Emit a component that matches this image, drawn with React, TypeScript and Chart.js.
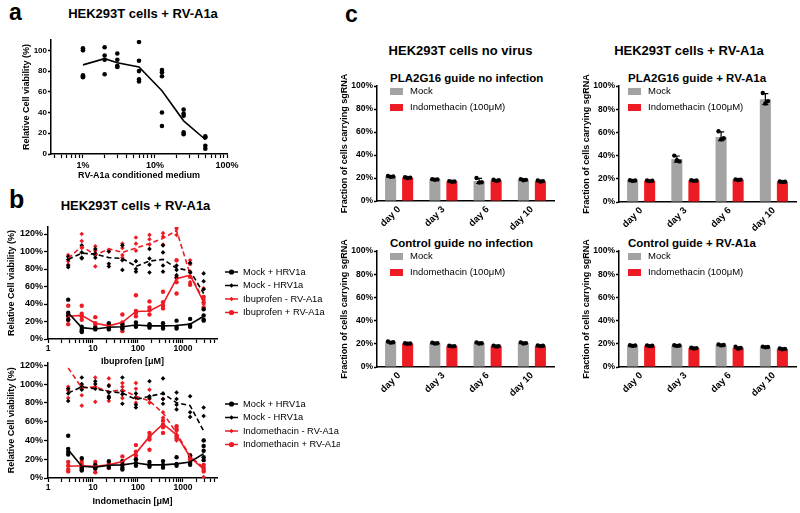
import React, { useEffect, useRef } from "react";
import { Chart, registerables } from "chart.js";

Chart.register(...registerables);

const FONT = '"Liberation Sans", Arial, Helvetica, sans-serif';
Chart.defaults.font.family = FONT;
Chart.defaults.color = "#000";

const RED = "rgb(237, 28, 36)";
const GRAY = "rgb(163, 163, 163)";
const BLACK = "#000";

// ---------------- Panel a ----------------
const aConcentrations = [1, 2, 3, 6, 12.5, 25, 50];
const aViabilityReplicates = [
  [102, 100, 76, 75, 74],
  [103, 95, 91, 77],
  [97, 91, 85, 84],
  [108, 90, 80, 72, 70],
  [81, 79, 75, 40, 27],
  [43, 39, 37, 21, 19],
  [17, 16, 8, 5],
];
const aViabilityMean = [86, 92, 88, 84, 61, 32, 14];
const aYTicks = [0, 20, 40, 60, 80, 100];

// ---------------- Panel b ----------------
const bConcentrations = [2.8125, 5.625, 11.25, 22.5, 45, 90, 180, 360, 720, 1440, 2880];
const bYTicks = [0, 20, 40, 60, 80, 100, 120];

// Ibuprofen
const ibuMockPlusMean = [30, 13, 11.5, 13.5, 14, 16, 15, 15, 15.5, 17, 26];
const ibuMockPlusReps = [
  [45, 30, 27, 22], [14, 11, 9, 8], [13, 12, 11], [18, 13, 11], [17, 13, 12], [19, 15, 14],
  [17, 15, 13], [18, 14, 12], [21, 14, 12], [23, 16, 14], [34, 27, 22, 21],
];
const ibuMockMinusMean = [91, 98, 97, 93, 92, 83, 89, 91, 81, 78, 52];
const ibuMockMinusReps = [
  [94, 91, 84, 82], [107, 99, 93, 92], [103, 98, 96, 93], [100, 86, 83], [107, 90, 79], [89, 80, 77],
  [103, 92, 85, 76], [107, 99, 84, 77], [84, 79, 73, 70], [87, 76], [75, 66, 57],
];
const ibuDrugMinusMean = [92, 106, 96, 103, 99, 104, 109, 115, 124, 74, 44];
const ibuDrugMinusReps = [
  [96, 89, 85], [120, 112, 104], [106, 101, 83], [102, 100], [109, 104, 96, 93], [116, 109, 101],
  [119, 114, 108], [121, 117, 108], [128, 126, 119], [90, 77, 65], [58, 45, 40],
];
const ibuDrugPlusMean = [26, 27, 18, 15, 19, 31.5, 32, 40, 69, 73, 42];
const ibuDrugPlusReps = [
  [38, 26, 22, 17], [38, 29, 26, 22], [25, 18, 16, 13], [17, 15, 12], [28, 19, 15, 9], [50, 32, 30, 26],
  [43, 36, 33, 28], [54, 42, 38, 35], [90, 70, 65, 52], [86, 71, 62], [48, 42, 36],
];

// Indomethacin
const indoMockPlusMean = [30, 12.5, 11.5, 13.5, 14, 16, 14, 14, 15, 17, 26];
const indoMockPlusReps = [
  [45, 31, 28, 25], [21, 11, 9, 8], [14, 12, 10], [18, 13, 11], [18, 14, 11, 9], [20, 16, 13],
  [17, 14, 12], [18, 14, 11], [22, 15, 13], [24, 16, 14], [40, 34, 29, 22, 19],
];
const indoMockMinusMean = [90.5, 97, 95, 92, 90.5, 83.5, 87, 90, 80, 77, 50];
const indoMockMinusReps = [
  [95, 90, 82], [107, 100, 97, 94], [103, 100, 95], [98, 91, 87, 85], [107, 93, 89, 79], [90, 86, 78, 75],
  [103, 87, 85], [106, 90, 84, 79], [91, 84, 78, 73], [87, 70, 65], [75, 66, 40],
];
const indoDrugMinusMean = [117, 96, 97, 92, 94, 87, 82, 69, 48, 23, 11];
const indoDrugMinusReps = [
  [97, 95, 93, 85], [99, 95, 88, 77], [107, 97, 81], [106, 99, 86, 82], [101, 97, 92, 85], [101, 95, 85, 80],
  [94, 84, 80], [84, 70, 64], [50, 44, 40], [24, 20], [12, 8, 1],
];
const indoDrugPlusMean = [12.5, 13, 12.5, 14, 17.5, 26.5, 44, 57.5, 46, 22, 9.5];
const indoDrugPlusReps = [
  [17, 13, 9, 7], [18, 15, 11], [17, 10, 6], [17, 15, 11], [23, 17, 14], [35, 28, 24, 20],
  [48, 44, 41, 30], [61, 57, 54, 48], [55, 52, 45, 42], [24, 22, 20], [14, 10, 7],
];

// ---------------- Panel c ----------------
const days = ["day 0", "day 3", "day 6", "day 10"];
const cYTicks = [0, 20, 40, 60, 80, 100];

const c1Mock = [21.3, 18.8, 17.4, 18.5];
const c1MockReps = [[21.8, 21.0, 21.3], [19.0, 18.5, 18.8], [20.0, 16.0, 16.3], [19.0, 18.0, 18.4]];
const c1Indo = [20.3, 17.0, 18.0, 17.3];
const c1IndoReps = [[20.6, 20.0, 20.3], [17.3, 16.7, 17.0], [18.5, 17.5, 18.0], [17.8, 16.9, 17.3]];

const c2Mock = [18.5, 37.0, 56.0, 88.5];
const c2MockReps = [[18.8, 18.2, 18.5], [40.0, 36.0, 35.0], [61.0, 54.0, 55.0], [94.0, 85.0, 87.0]];
const c2Indo = [18.3, 18.5, 19.3, 17.5];
const c2IndoReps = [[18.5, 18.0, 18.3], [18.8, 18.2, 18.5], [19.5, 19.0, 19.3], [17.7, 17.3, 17.5]];

const c3Mock = [21.3, 20.5, 20.6, 20.7];
const c3MockReps = [[22.0, 21.0, 21.4], [21.0, 20.2, 20.5], [21.2, 20.2, 20.5], [21.2, 20.3, 20.6]];
const c3Indo = [20.2, 18.0, 18.0, 18.3];
const c3IndoReps = [[20.5, 20.0, 20.2], [18.3, 17.8, 18.0], [18.4, 17.7, 18.0], [18.6, 18.0, 18.3]];

const c4Mock = [18.5, 18.5, 19.0, 17.3];
const c4MockReps = [[18.8, 18.2, 18.5], [18.8, 18.2, 18.5], [19.5, 18.6, 19.0], [17.6, 17.0, 17.3]];
const c4Indo = [18.3, 16.3, 16.5, 15.6];
const c4IndoReps = [[18.6, 18.0, 18.3], [16.6, 16.0, 16.3], [17.5, 15.8, 16.4], [15.9, 15.3, 15.6]];

// ---------------- helpers ----------------
const pts = (xs: number[], ys: number[]) => xs.map((x, i) => ({ x, y: ys[i] }));
const repPts = (xs: number[], reps: number[][]) => xs.flatMap((x, i) => reps[i].map((y) => ({ x, y })));
const isPow10 = (v: number) => Math.abs(Math.log10(v) - Math.round(Math.log10(v))) < 1e-6;

function logTicks(min: number, max: number) {
  const out: any[] = [];
  for (let e = Math.floor(Math.log10(min)); e <= Math.ceil(Math.log10(max)); e++) {
    for (let s = 1; s < 10; s++) {
      const v = +(s * Math.pow(10, e)).toPrecision(6);
      if (v >= min - 1e-9 && v <= max + 1e-9) out.push({ value: v });
    }
  }
  return out;
}

type Box = { x: number; y: number; w: number; h: number };
type Area = { l: number; r: number; t: number; b: number };

function layoutPadding(box: Box, area: Area) {
  return { left: 0, top: area.t - box.y, right: box.x + box.w - area.r, bottom: 0 };
}

function zeroPad(s: any) {
  s.paddingLeft = 0;
  s.paddingRight = 0;
  s.paddingTop = 0;
  s.paddingBottom = 0;
}

function yScale(o: any) {
  const lh = o.titleSize * 1.2;
  const yW = o.area.l - o.box.x;
  return {
    type: "linear",
    min: o.min,
    max: o.max,
    afterBuildTicks: (s: any) => {
      s.ticks = o.ticks.map((v: number) => ({ value: v }));
    },
    afterFit: (s: any) => {
      s.width = yW;
      zeroPad(s);
    },
    ticks: {
      callback: o.fmt,
      autoSkip: false,
      padding: o.tickPad,
      color: BLACK,
      font: { size: o.tickSize, weight: "bold" },
    },
    grid: { display: true, drawOnChartArea: false, drawTicks: true, tickLength: o.tickLen, color: BLACK, tickWidth: 1.3 },
    border: { display: true, color: BLACK, width: 1.5 },
    title: {
      display: true,
      text: o.title,
      color: BLACK,
      font: { size: o.titleSize, weight: "bold", lineHeight: 1.2 },
      padding: { top: o.titleCx - o.box.x - lh / 2, bottom: 0 },
    },
  };
}

function xLogScale(o: any) {
  const lh = o.titleSize * 1.2;
  const xH = o.box.y + o.box.h - o.area.b;
  return {
    type: "logarithmic",
    min: o.min,
    max: o.max,
    afterBuildTicks: (s: any) => {
      s.ticks = logTicks(o.min, o.max);
    },
    afterFit: (s: any) => {
      s.height = xH;
      zeroPad(s);
    },
    ticks: {
      callback: (v: number) => (isPow10(v) ? o.fmt(v) : ""),
      autoSkip: false,
      maxRotation: 0,
      minRotation: 0,
      padding: o.tickPad,
      color: BLACK,
      font: { size: o.tickSize, weight: "bold" },
    },
    grid: { display: true, drawOnChartArea: false, drawTicks: true, tickLength: o.tickLen, color: BLACK, tickWidth: 1.2 },
    border: { display: true, color: BLACK, width: 1.5 },
    title: {
      display: true,
      text: o.title,
      color: BLACK,
      font: { size: o.titleSize, weight: "bold", lineHeight: 1.2 },
      padding: { top: 0, bottom: o.box.y + o.box.h - o.titleCy - lh / 2 },
    },
  };
}

function legendPlugin(box: Box, entries: any[]) {
  return {
    id: "pageLegend",
    afterDraw(chart: any) {
      const ctx = chart.ctx;
      ctx.save();
      entries.forEach((e) => {
        const ds = chart.data.datasets[e.ds];
        const x = e.x - box.x;
        const y = e.y - box.y;
        if (e.kind === "box") {
          ctx.fillStyle = ds.backgroundColor;
          ctx.fillRect(x, y - 3.5, 13, 7);
        } else {
          ctx.strokeStyle = ds.borderColor;
          ctx.lineWidth = 1.5;
          ctx.setLineDash([]);
          ctx.beginPath();
          ctx.moveTo(x, y);
          ctx.lineTo(x + 13, y);
          ctx.stroke();
          ctx.fillStyle = ds.borderColor;
          ctx.beginPath();
          if (e.marker === "circle") {
            ctx.arc(x + 6.5, y, 2.6, 0, Math.PI * 2);
          } else {
            ctx.moveTo(x + 6.5, y - 2.2);
            ctx.lineTo(x + 8.7, y);
            ctx.lineTo(x + 6.5, y + 2.2);
            ctx.lineTo(x + 4.3, y);
            ctx.closePath();
          }
          ctx.fill();
        }
        ctx.fillStyle = BLACK;
        ctx.font = `${e.size || 9.3}px ${FONT}`;
        ctx.textBaseline = "middle";
        ctx.textAlign = "left";
        ctx.fillText(ds.label, x + e.tx, y);
      });
      ctx.restore();
    },
  };
}

function replicatePlugin(repSets: number[][][]) {
  return {
    id: "replicates",
    afterDatasetsDraw(chart: any) {
      const ctx = chart.ctx;
      const ys = chart.scales.y;
      ctx.save();
      repSets.forEach((reps, di) => {
        const meta = chart.getDatasetMeta(di);
        meta.data.forEach((bar: any, j: number) => {
          const vals = reps[j];
          const n = vals.length;
          const mean = vals.reduce((a, b) => a + b, 0) / n;
          const sd = Math.sqrt(vals.reduce((a, b) => a + (b - mean) * (b - mean), 0) / (n - 1));
          const x = bar.x;
          const yT = ys.getPixelForValue(mean + sd);
          const yB = ys.getPixelForValue(mean - sd);
          ctx.strokeStyle = BLACK;
          ctx.lineWidth = 1.2;
          ctx.beginPath();
          ctx.moveTo(x, yT);
          ctx.lineTo(x, yB);
          ctx.moveTo(x - 3, yT);
          ctx.lineTo(x + 3, yT);
          ctx.moveTo(x - 3, yB);
          ctx.lineTo(x + 3, yB);
          ctx.stroke();
          ctx.fillStyle = BLACK;
          vals.forEach((v, k) => {
            const dx = (k - (n - 1) / 2) * 2.6;
            ctx.beginPath();
            ctx.arc(x + dx, ys.getPixelForValue(v), 2.2, 0, Math.PI * 2);
            ctx.fill();
          });
        });
      });
      ctx.restore();
    },
  };
}

function ChartBox({ box, make }: { box: Box; make: () => any }) {
  const ref = useRef<HTMLCanvasElement | null>(null);
  useEffect(() => {
    const chart = new Chart(ref.current as HTMLCanvasElement, make());
    return () => chart.destroy();
  }, []);
  return (
    <canvas
      ref={ref}
      width={box.w}
      height={box.h}
      style={{ position: "absolute", left: box.x, top: box.y, width: box.w, height: box.h }}
    />
  );
}

function Txt({ x, y, size, bold = true, anchor = "start", children }: any) {
  return (
    <div
      style={{
        position: "absolute",
        left: x,
        top: y - 0.8465 * size,
        fontSize: size,
        fontWeight: bold ? "bold" : "normal",
        fontFamily: FONT,
        lineHeight: 1,
        whiteSpace: "nowrap",
        color: "#000",
        transform: anchor === "middle" ? "translateX(-50%)" : undefined,
      }}
    >
      {children}
    </div>
  );
}

const baseOptions = {
  responsive: false,
  animation: false,
  events: [],
  plugins: { legend: { display: false }, tooltip: { enabled: false }, title: { display: false } },
};

// ---------------- Panel a chart ----------------
const aBox: Box = { x: 0, y: 25, w: 250, h: 165 };
const aArea: Area = { l: 51, r: 227, t: 40, b: 154 };

function makeA() {
  return {
    type: "scatter",
    data: {
      datasets: [
        {
          label: "replicates",
          data: repPts(aConcentrations, aViabilityReplicates),
          pointStyle: "circle",
          pointRadius: 2.3,
          backgroundColor: BLACK,
          borderColor: BLACK,
          borderWidth: 0,
        },
        {
          label: "mean",
          data: pts(aConcentrations, aViabilityMean),
          showLine: true,
          borderColor: BLACK,
          borderWidth: 1.6,
          pointRadius: 0,
        },
      ],
    },
    options: {
      ...baseOptions,
      layout: { padding: layoutPadding(aBox, aArea) },
      scales: {
        x: xLogScale({
          box: aBox, area: aArea, min: 0.36, max: 100, fmt: (v: number) => `${v}%`,
          title: "RV-A1a conditioned medium", titleSize: 9, titleCy: 176,
          tickSize: 9, tickLen: 4, tickPad: 2,
        }),
        y: yScale({
          box: aBox, area: aArea, min: 0, max: 110, ticks: aYTicks, fmt: (v: number) => `${v}`,
          title: "Relative Cell viability (%)", titleSize: 9, titleCx: 27,
          tickSize: 8, tickLen: 3, tickPad: 1,
        }),
      },
    },
  };
}

// ---------------- Panel b charts ----------------
function makeB(box: Box, area: Area, maxY: number, xTitle: string, titleCy: number, drugLabel: string, series: any, legendYs: number[]) {
  const datasets = [
    { label: "Mock + HRV1a", data: pts(bConcentrations, series.mockPlusMean), showLine: true, borderColor: BLACK, backgroundColor: BLACK, borderWidth: 1.6, pointRadius: 0 },
    { label: "Mock - HRV1a", data: pts(bConcentrations, series.mockMinusMean), showLine: true, borderColor: BLACK, backgroundColor: BLACK, borderWidth: 1.6, borderDash: [5, 3], pointRadius: 0 },
    { label: `${drugLabel} - RV-A1a`, data: pts(bConcentrations, series.drugMinusMean), showLine: true, borderColor: RED, backgroundColor: RED, borderWidth: 1.6, borderDash: [5, 3], pointRadius: 0 },
    { label: `${drugLabel} + RV-A1a`, data: pts(bConcentrations, series.drugPlusMean), showLine: true, borderColor: RED, backgroundColor: RED, borderWidth: 1.6, pointRadius: 0 },
    { label: "", data: repPts(bConcentrations, series.mockPlusReps), pointStyle: "circle", pointRadius: 2.2, backgroundColor: BLACK, borderWidth: 0 },
    { label: "", data: repPts(bConcentrations, series.mockMinusReps), pointStyle: "rectRot", pointRadius: 2.3, backgroundColor: BLACK, borderWidth: 0 },
    { label: "", data: repPts(bConcentrations, series.drugMinusReps), pointStyle: "rectRot", pointRadius: 2.3, backgroundColor: RED, borderWidth: 0 },
    { label: "", data: repPts(bConcentrations, series.drugPlusReps), pointStyle: "circle", pointRadius: 2.2, backgroundColor: RED, borderWidth: 0 },
  ];
  const markers = ["circle", "diamond", "diamond", "circle"];
  const entries = legendYs.map((y, i) => ({ ds: i, x: 225, y, tx: 18, kind: "line", marker: markers[i], size: 9.3 }));
  return {
    type: "scatter",
    data: { datasets },
    options: {
      ...baseOptions,
      layout: { padding: layoutPadding(box, area) },
      scales: {
        x: xLogScale({
          box, area, min: 1, max: 5700, fmt: (v: number) => `${v}`,
          title: xTitle, titleSize: 9, titleCy,
          tickSize: 8.5, tickLen: 4, tickPad: 1,
        }),
        y: yScale({
          box, area, min: 0, max: maxY, ticks: bYTicks, fmt: (v: number) => `${v}%`,
          title: "Relative Cell viability (%)", titleSize: 9, titleCx: 12,
          tickSize: 9, tickLen: 4, tickPad: 1,
        }),
      },
    },
    plugins: [legendPlugin(box, entries)],
  };
}

const bTopBox: Box = { x: 0, y: 215, w: 340, h: 160 };
const bTopArea: Area = { l: 48, r: 217, t: 227, b: 339 };
const bBotBox: Box = { x: 0, y: 350, w: 340, h: 163 };
const bBotArea: Area = { l: 48, r: 217, t: 362.4, b: 478 };

// ---------------- Panel c charts ----------------
function makeC(box: Box, area: Area, mock: number[], indo: number[], mockReps: number[][], indoReps: number[][], legendX: number, yTitleCx: number) {
  const xH = box.y + box.h - area.b;
  const entries = [
    { ds: 0, x: legendX, y: area.t + 5.5, tx: 20, kind: "box", size: 9.5 },
    { ds: 1, x: legendX, y: area.t + 21.5, tx: 20, kind: "box", size: 9.5 },
  ];
  return {
    type: "bar",
    data: {
      labels: days,
      datasets: [
        { label: "Mock", data: mock, backgroundColor: GRAY, borderWidth: 0, barPercentage: 0.65, categoryPercentage: 0.77 },
        { label: "Indomethacin (100\u03bcM)", data: indo, backgroundColor: RED, borderWidth: 0, barPercentage: 0.65, categoryPercentage: 0.77 },
      ],
    },
    options: {
      ...baseOptions,
      layout: { padding: layoutPadding(box, area) },
      scales: {
        x: {
          type: "category",
          afterFit: (s: any) => {
            s.height = xH;
            zeroPad(s);
          },
          ticks: { autoSkip: false, maxRotation: 45, minRotation: 45, padding: 3, color: BLACK, font: { size: 9.5, weight: "bold" } },
          grid: { display: true, drawOnChartArea: false, drawTicks: false },
          border: { display: true, color: BLACK, width: 1.5 },
        },
        y: yScale({
          box, area, min: 0, max: 100, ticks: cYTicks, fmt: (v: number) => `${v}%`,
          title: "Fraction of cells carrying sgRNA", titleSize: 9, titleCx: yTitleCx,
          tickSize: 8.5, tickLen: 3, tickPad: 1,
        }),
      },
    },
    plugins: [replicatePlugin([mockReps, indoReps]), legendPlugin(box, entries)],
  };
}

const c1Box: Box = { x: 330, y: 60, w: 235, h: 175 };
const c1Area: Area = { l: 377, r: 554, t: 86, b: 201 };
const c2Box: Box = { x: 572, y: 60, w: 228, h: 175 };
const c2Area: Area = { l: 619, r: 796, t: 86, b: 202 };
const c3Box: Box = { x: 330, y: 225, w: 235, h: 180 };
const c3Area: Area = { l: 377, r: 554, t: 251, b: 367 };
const c4Box: Box = { x: 572, y: 225, w: 228, h: 180 };
const c4Area: Area = { l: 619, r: 796, t: 251, b: 367 };

export default function App() {
  return (
    <div style={{ position: "absolute", left: 0, top: 0, width: 800, height: 513, background: "#fff", overflow: "hidden" }}>
      {/* panel letters & titles */}
      <Txt x={9} y={20.5} size={23}>a</Txt>
      <Txt x={143} y={18.5} size={13} anchor="middle">HEK293T cells + RV-A1a</Txt>
      <Txt x={9} y={208} size={25}>b</Txt>
      <Txt x={135.5} y={210} size={13} anchor="middle">HEK293T cells + RV-A1a</Txt>
      <Txt x={345} y={22} size={23}>c</Txt>
      <Txt x={460.5} y={55} size={13} anchor="middle">HEK293T cells no virus</Txt>
      <Txt x={689} y={55} size={13} anchor="middle">HEK293T cells + RV-A1a</Txt>
      <Txt x={390} y={83} size={11.5}>PLA2G16 guide no infection</Txt>
      <Txt x={628} y={83} size={11.5}>PLA2G16 guide + RV-A1a</Txt>
      <Txt x={390} y={248} size={11.5}>Control guide no infection</Txt>
      <Txt x={628} y={248} size={11.5}>Control guide + RV-A1a</Txt>

      <ChartBox box={aBox} make={makeA} />
      <ChartBox
        box={bTopBox}
        make={() =>
          makeB(bTopBox, bTopArea, 128, "Ibuprofen [\u03bcM]", 362, "Ibuprofen", {
            mockPlusMean: ibuMockPlusMean, mockPlusReps: ibuMockPlusReps,
            mockMinusMean: ibuMockMinusMean, mockMinusReps: ibuMockMinusReps,
            drugMinusMean: ibuDrugMinusMean, drugMinusReps: ibuDrugMinusReps,
            drugPlusMean: ibuDrugPlusMean, drugPlusReps: ibuDrugPlusReps,
          }, [272, 285.5, 299, 312.5])
        }
      />
      <ChartBox
        box={bBotBox}
        make={() =>
          makeB(bBotBox, bBotArea, 123, "Indomethacin [\u03bcM]", 502, "Indomethacin", {
            mockPlusMean: indoMockPlusMean, mockPlusReps: indoMockPlusReps,
            mockMinusMean: indoMockMinusMean, mockMinusReps: indoMockMinusReps,
            drugMinusMean: indoDrugMinusMean, drugMinusReps: indoDrugMinusReps,
            drugPlusMean: indoDrugPlusMean, drugPlusReps: indoDrugPlusReps,
          }, [404, 417.5, 431, 444.5])
        }
      />
      <ChartBox box={c1Box} make={() => makeC(c1Box, c1Area, c1Mock, c1Indo, c1MockReps, c1IndoReps, 390, 345)} />
      <ChartBox box={c2Box} make={() => makeC(c2Box, c2Area, c2Mock, c2Indo, c2MockReps, c2IndoReps, 628, 587)} />
      <ChartBox box={c3Box} make={() => makeC(c3Box, c3Area, c3Mock, c3Indo, c3MockReps, c3IndoReps, 390, 345)} />
      <ChartBox box={c4Box} make={() => makeC(c4Box, c4Area, c4Mock, c4Indo, c4MockReps, c4IndoReps, 628, 587)} />
    </div>
  );
}
